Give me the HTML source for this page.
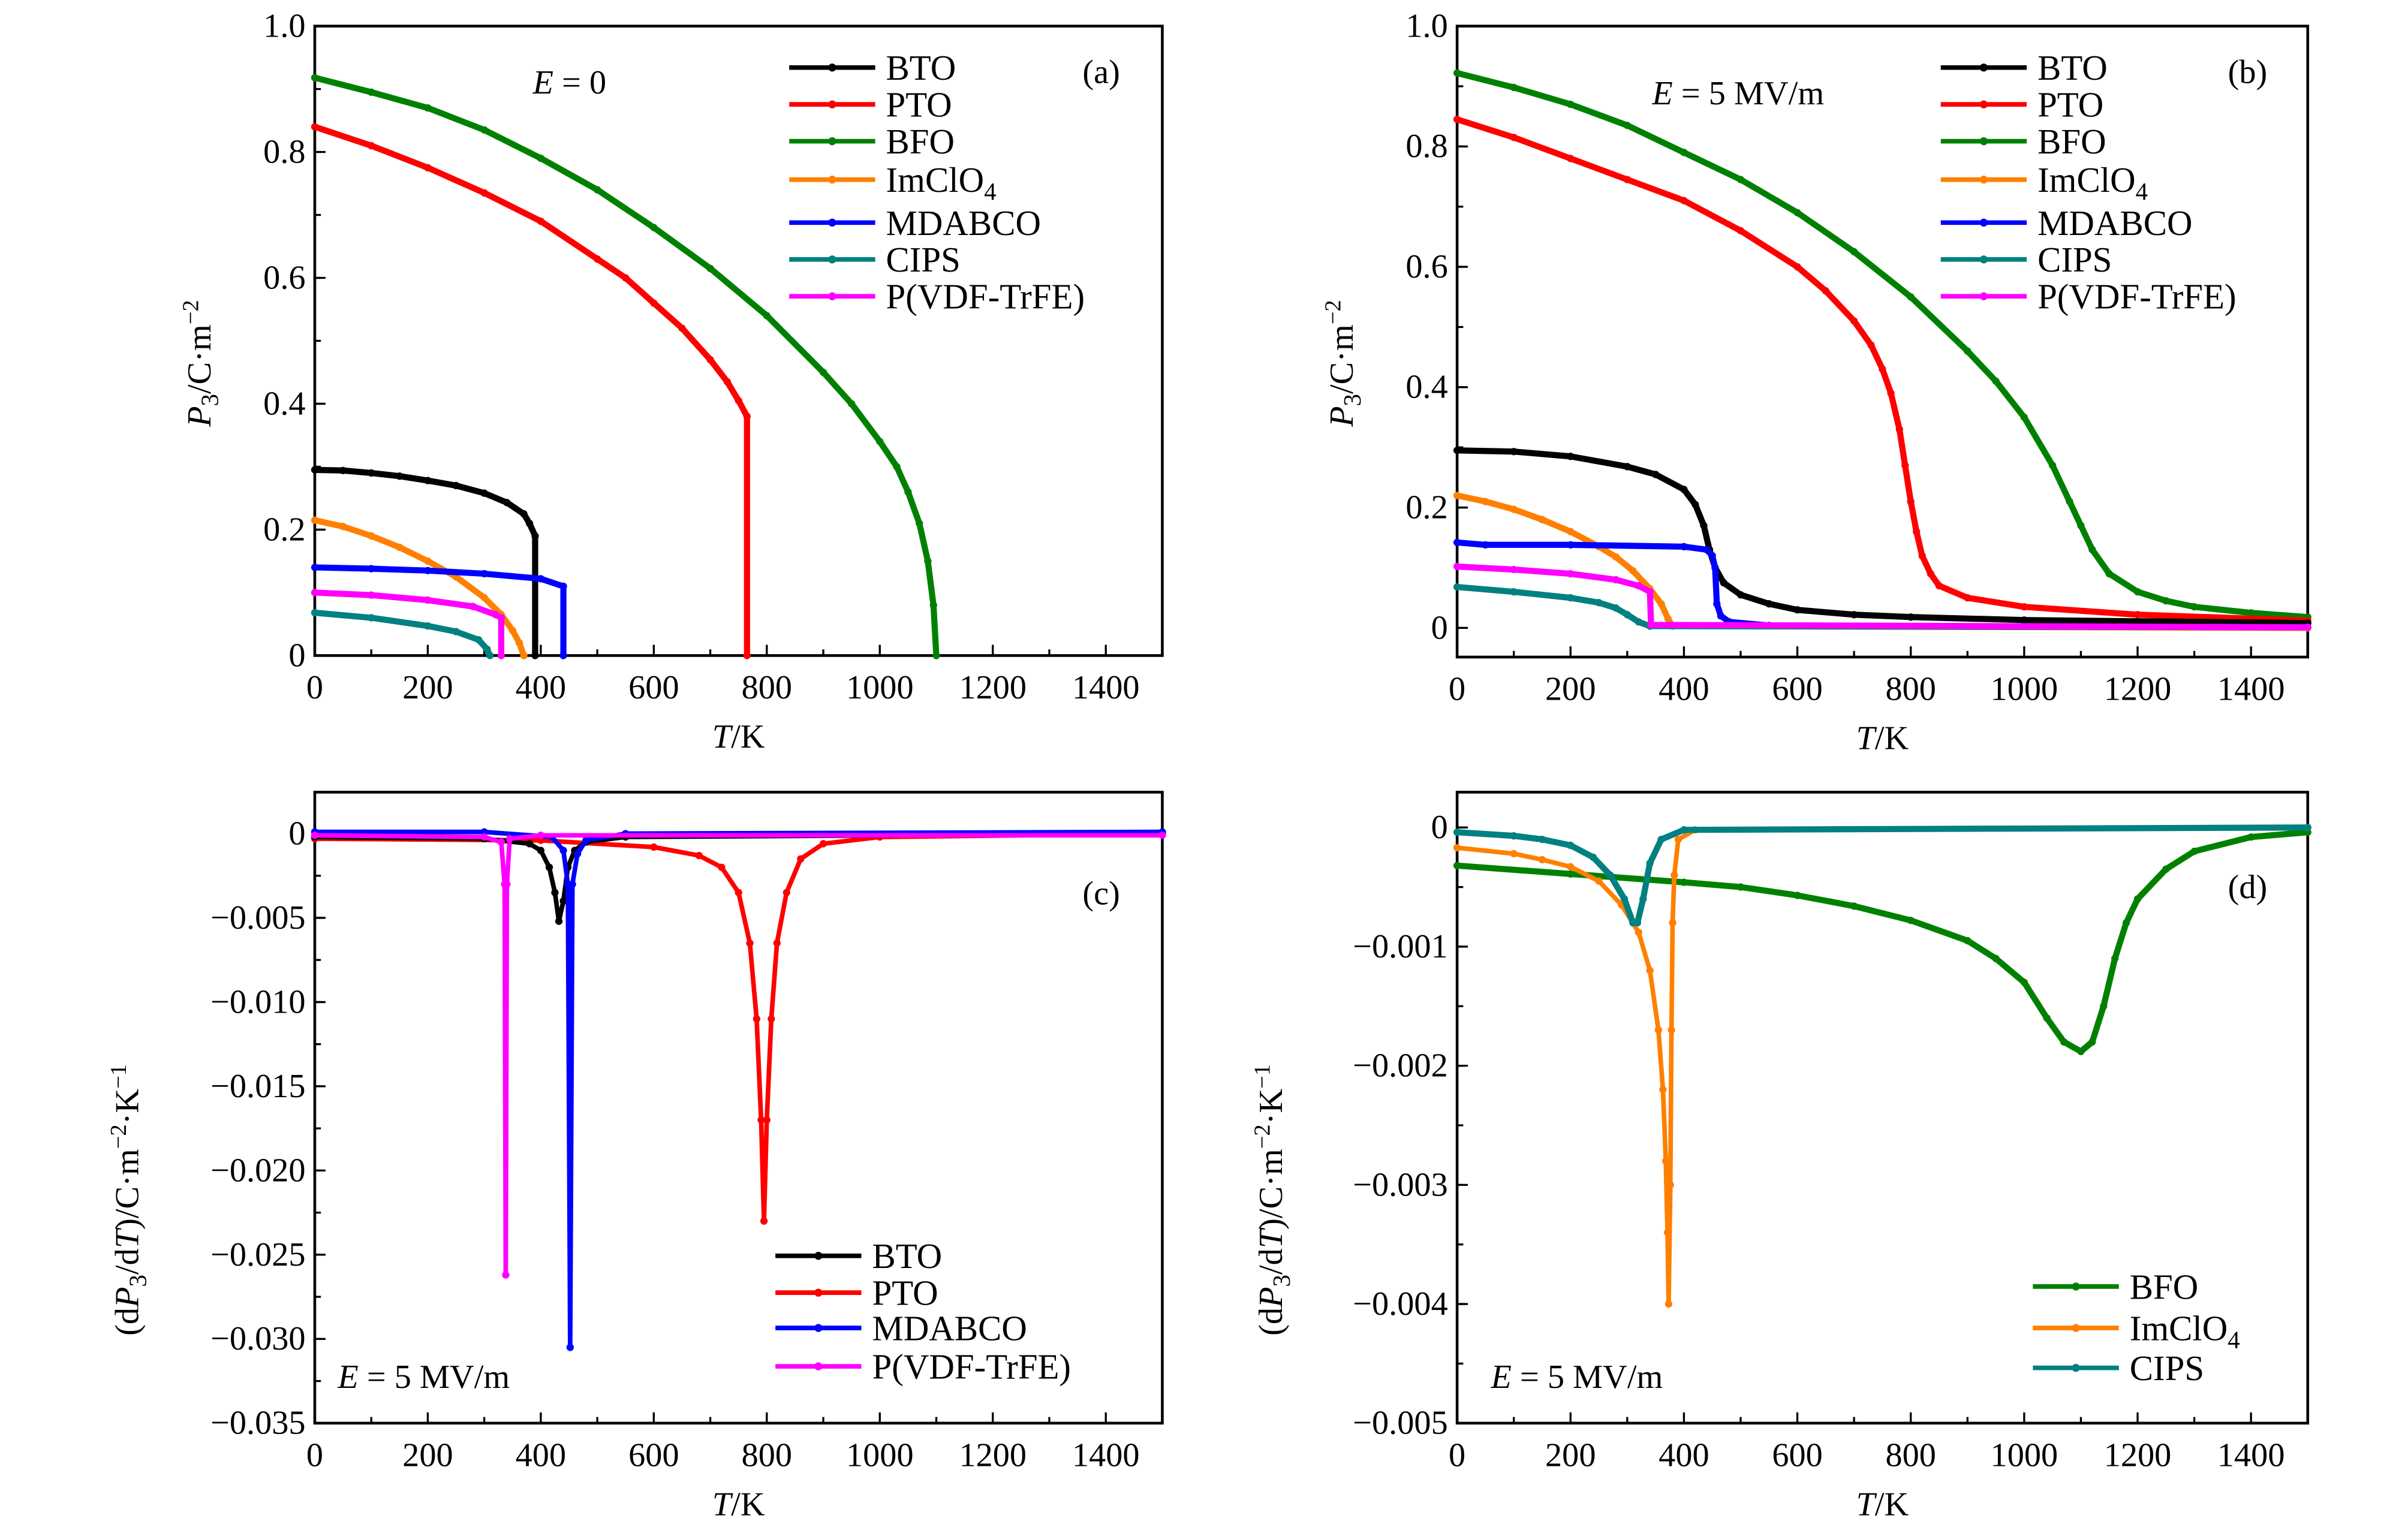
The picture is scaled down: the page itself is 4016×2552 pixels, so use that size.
<!DOCTYPE html>
<html><head><meta charset="utf-8">
<style>
html,body{margin:0;padding:0;background:#fff;}
svg{display:block;}
text{font-family:"Liberation Serif",serif;fill:#000;}
</style></head>
<body>
<svg id="fig" xmlns="http://www.w3.org/2000/svg" width="4016" height="2552" viewBox="0 0 1568.3 996.6">
<rect x="0" y="0" width="1568.3" height="996.6" fill="#fff"/>
</svg>
<script>
// ---------- data (T in K) ----------
const aBTO_T=[0,50,100,150,200,250,300,340,370,380,390,390];
const aBTO_P=[0.295,0.294,0.29,0.285,0.278,0.27,0.258,0.243,0.225,0.21,0.19,0];
const aPTO_T=[0,100,200,300,400,500,550,600,650,700,730,750,765,765];
const aPTO_P=[0.84,0.81,0.775,0.735,0.69,0.63,0.6,0.56,0.52,0.47,0.435,0.405,0.38,0];
const aBFO_T=[0,100,200,300,400,500,600,700,800,900,950,1000,1030,1050,1070,1085,1095,1100];
const aBFO_P=[0.918,0.895,0.87,0.835,0.79,0.74,0.68,0.615,0.54,0.45,0.40,0.34,0.30,0.26,0.21,0.15,0.08,0];
const aIm_T=[0,50,100,150,200,250,300,330,350,362,370];
const aIm_P=[0.215,0.205,0.19,0.172,0.15,0.125,0.092,0.065,0.04,0.02,0];
const aMD_T=[0,100,200,300,400,440,440];
const aMD_P=[0.14,0.138,0.135,0.13,0.122,0.11,0];
const aCI_T=[0,100,200,250,290,305,310];
const aCI_P=[0.068,0.06,0.047,0.038,0.025,0.01,0];
const aPV_T=[0,100,200,280,320,330,330];
const aPV_P=[0.1,0.096,0.088,0.078,0.065,0.06,0];

const bBTO_T=[0,100,200,300,350,400,420,435,445,455,470,500,550,600,700,800,1000,1500];
const bBTO_P=[0.295,0.293,0.285,0.268,0.255,0.23,0.205,0.17,0.13,0.1,0.075,0.055,0.04,0.03,0.022,0.018,0.013,0.008];
const bPTO_T=[0,100,200,300,400,500,600,650,700,730,750,765,780,790,800,810,820,835,850,900,1000,1200,1500];
const bPTO_P=[0.845,0.815,0.78,0.745,0.71,0.66,0.6,0.56,0.51,0.47,0.43,0.39,0.33,0.27,0.21,0.16,0.12,0.09,0.07,0.05,0.035,0.022,0.012];
const bBFO_T=[0,100,200,300,400,500,600,700,800,900,950,1000,1050,1080,1100,1120,1150,1200,1250,1300,1400,1500];
const bBFO_P=[0.922,0.898,0.87,0.835,0.79,0.745,0.69,0.625,0.55,0.46,0.41,0.35,0.27,0.21,0.17,0.13,0.09,0.06,0.045,0.035,0.025,0.018];
const bIm_T=[0,50,100,150,200,250,280,310,340,360,372,380,1500];
const bIm_P=[0.22,0.21,0.197,0.18,0.16,0.135,0.118,0.095,0.065,0.04,0.015,0.003,0];
const bMD_T=[0,50,200,400,440,450,455,458,465,480,550,1500];
const bMD_P=[0.142,0.138,0.138,0.135,0.13,0.12,0.1,0.04,0.02,0.01,0.004,0.001];
const bCI_T=[0,100,200,250,280,300,320,340,1500];
const bCI_P=[0.068,0.06,0.05,0.042,0.033,0.022,0.01,0.003,0.001];
const bPV_T=[0,100,200,280,320,340,342,1500];
const bPV_P=[0.102,0.097,0.09,0.08,0.07,0.06,0.005,0.001];

const cBTO_T=[0,300,380,400,415,425,432,440,448,460,480,550,1500];
const cBTO_D=[-0.0002,-0.0003,-0.0006,-0.001,-0.002,-0.0035,-0.0052,-0.004,-0.002,-0.001,-0.0005,-0.0002,0];
const cPTO_T=[0,400,600,680,720,750,770,782,790,795,800,808,818,835,860,900,1000,1500];
const cPTO_D=[-0.0003,-0.0004,-0.0008,-0.0013,-0.002,-0.0035,-0.0065,-0.011,-0.017,-0.023,-0.017,-0.011,-0.0065,-0.0035,-0.0015,-0.0006,-0.0002,0];
const cMD_T=[0,300,420,440,448,452,456,465,480,550,1500];
const cMD_D=[0.0001,0.0001,-0.0002,-0.001,-0.003,-0.0305,-0.003,-0.0012,-0.0004,0,0.0001];
const cPV_T=[0,300,330,336,338,340,345,400,1500];
const cPV_D=[-0.0001,-0.0002,-0.0005,-0.003,-0.0262,-0.003,-0.0003,-0.0001,-0.0001];

const dBFO_T=[0,200,400,500,600,700,800,900,950,1000,1040,1070,1100,1120,1140,1160,1180,1200,1250,1300,1400,1500];
const dBFO_D=[-0.00032,-0.00039,-0.00046,-0.0005,-0.00057,-0.00066,-0.00078,-0.00095,-0.0011,-0.0013,-0.0016,-0.0018,-0.00188,-0.0018,-0.0015,-0.0011,-0.0008,-0.0006,-0.00035,-0.0002,-0.00008,-0.00004];
const dIm_T=[0,100,150,200,250,290,320,340,355,363,368,371,373,376,378,380,383,390,420,1500];
const dIm_D=[-0.00017,-0.00022,-0.00027,-0.00033,-0.00045,-0.00065,-0.00088,-0.0012,-0.0017,-0.0022,-0.0028,-0.0034,-0.004,-0.003,-0.0017,-0.0008,-0.0004,-0.0001,-0.00002,0];
const dCI_T=[0,100,150,200,240,270,295,310,318,328,340,360,400,1500];
const dCI_D=[-0.00004,-0.00007,-0.0001,-0.00015,-0.00025,-0.0004,-0.0006,-0.0008,-0.0008,-0.0006,-0.0003,-0.0001,-0.00002,0];

const xTicks=[0,200,400,600,800,1000,1200,1400];
const aYTicks=[0,0.2,0.4,0.6,0.8,1.0];
const aYLabels=["0","0.2","0.4","0.6","0.8","1.0"];
const cYTicks=[0,-0.005,-0.010,-0.015,-0.020,-0.025,-0.030,-0.035];
const cYLabels=["0","\u22120.005","\u22120.010","\u22120.015","\u22120.020","\u22120.025","\u22120.030","\u22120.035"];
const dYTicks=[0,-0.001,-0.002,-0.003,-0.004,-0.005];
const dYLabels=["0","\u22120.001","\u22120.002","\u22120.003","\u22120.004","\u22120.005"];

// ---------- helpers ----------
const NS="http://www.w3.org/2000/svg";
const svg=document.getElementById('fig');
function mk(tag,attrs,parent){const e=document.createElementNS(NS,tag);for(const k in attrs)e.setAttribute(k,attrs[k]);(parent||svg).appendChild(e);return e;}
function axis(x0,x1,y0,y1,v0,v1){return{x:t=>x0+(t/1500)*(x1-x0),y:v=>y0+(v-v0)/(v1-v0)*(y1-y0)};}

function panel(name,box,sc,yT,yL,minorStep,yMin,yMax){
  const g=mk('g',{});
  
  
  const r=mk('rect',{x:box[0],y:box[1],width:box[2]-box[0],height:box[3]-box[1],fill:'none',stroke:'#000','stroke-width':1.8},g);
  
  
  for(let t=0;t<=1500;t+=100){
    const X=sc.x(t);const major=(t%200===0);
    mk('line',{x1:X,x2:X,y1:box[3],y2:box[3]-(major?7:4),stroke:'#000','stroke-width':1.3},g);
  }
  xTicks.forEach(t=>{
    const tx=mk('text',{x:sc.x(t),y:box[3]+28,'font-size':22,'text-anchor':'middle'},g);
    tx.textContent=String(t);
    
    
  });
  for(let v=yMax;v>=yMin-1e-9;v-=minorStep){
    const Y=sc.y(v);if(Y<box[1]||Y>box[3])continue;
    mk('line',{x1:box[0],x2:box[0]+4,y1:Y,y2:Y,stroke:'#000','stroke-width':1.3},g);
  }
  yT.forEach((v,i)=>{
    const Y=sc.y(v);
    mk('line',{x1:box[0],x2:box[0]+7,y1:Y,y2:Y,stroke:'#000','stroke-width':1.3},g);
    const tx=mk('text',{x:box[0]-6,y:Y+7,'font-size':22,'text-anchor':'end'},g);
    tx.textContent=yL[i];
    
    
  });
  const xl=mk('text',{x:(box[0]+box[2])/2,y:box[3]+60,'font-size':22,'text-anchor':'middle'},g);
  xl.innerHTML='<tspan font-style="italic">T</tspan>/K';
  
  
  return g;
}

function series(name,T,V,sc,color,width){
  const g=mk('g',{});
  
  
  const pts=T.map((t,i)=>sc.x(t).toFixed(2)+','+sc.y(V[i]).toFixed(2)).join(' ');
  const pl=mk('polyline',{points:pts,fill:'none',stroke:color,'stroke-width':width,'stroke-linejoin':'round','stroke-linecap':'round'},g);
  
  
  T.forEach((t,i)=>{
    const c=mk('circle',{cx:sc.x(t),cy:sc.y(V[i]),r:2.4,fill:color},g);
    
    
  });
}

function legend(name,x,ys,labels,colors){
  const g=mk('g',{});
  
  
  labels.forEach((l,i)=>{
    const y=ys[i];
    mk('line',{x1:x,x2:x+56,y1:y,y2:y,stroke:colors[i],'stroke-width':3},g);
    mk('circle',{cx:x+28,cy:y,r:2.6,fill:colors[i]},g);
    const t=mk('text',{x:x+63,y:y+8,'font-size':23},g);
    t.innerHTML=l;
    
    
  });
}
function label(txt,x,y,size,anchor,name,rot){
  const t=mk('text',{x:x,y:y,'font-size':size,'text-anchor':anchor||'start'});
  if(rot)t.setAttribute('transform','rotate(-90 '+x+' '+y+')');
  t.innerHTML=txt;
  
  
}
const BLK='#000',RED='#ff0000',GRN='#008000',ORG='#ff8000',BLU='#0000ff',TEA='#008080',MAG='#ff00ff';
const imc='ImClO<tspan font-size="16" dy="5">4</tspan>';
const W=4;

// ---------- panel a ----------
const boxA=[205,17,757,427];
const sa=axis(205,757,427,17,0,1);
panel('panel-a',boxA,sa,aYTicks,aYLabels,0.1,0,1);
series('bfo-a',aBFO_T,aBFO_P,sa,GRN,W);
series('pto-a',aPTO_T,aPTO_P,sa,RED,W);
series('bto-a',aBTO_T,aBTO_P,sa,BLK,W);
series('imclo4-a',aIm_T,aIm_P,sa,ORG,W);
series('mdabco-a',aMD_T,aMD_P,sa,BLU,W);
series('cips-a',aCI_T,aCI_P,sa,TEA,W);
series('pvdf-a',aPV_T,aPV_P,sa,MAG,W);
legend('legend-a',514,[44,68,92,117,145,169,193],['BTO','PTO','BFO',imc,'MDABCO','CIPS','P(VDF-TrFE)'],[BLK,RED,GRN,ORG,BLU,TEA,MAG]);
label('<tspan font-style="italic">E</tspan> = 0',347,61,22,'start','field-label-a');
label('(a)',705,54,22,'start','panel-label-a');
label('<tspan font-style="italic">P</tspan><tspan font-size="16" dy="5">3</tspan><tspan dy="-5">/C·m</tspan><tspan font-size="15" dy="-8">−2</tspan>',137,278,22,'start','y-axis-title-a',true);

// ---------- panel b ----------
const boxB=[949,17,1503,428];
const sb=axis(949,1503,409,17,0,1);
panel('panel-b',boxB,sb,aYTicks,aYLabels,0.1,0,1);
series('bfo-b',bBFO_T,bBFO_P,sb,GRN,W);
series('pto-b',bPTO_T,bPTO_P,sb,RED,W);
series('bto-b',bBTO_T,bBTO_P,sb,BLK,W);
series('imclo4-b',bIm_T,bIm_P,sb,ORG,W);
series('mdabco-b',bMD_T,bMD_P,sb,BLU,W);
series('cips-b',bCI_T,bCI_P,sb,TEA,W);
series('pvdf-b',bPV_T,bPV_P,sb,MAG,W);
legend('legend-b',1264,[44,68,92,117,145,169,193],['BTO','PTO','BFO',imc,'MDABCO','CIPS','P(VDF-TrFE)'],[BLK,RED,GRN,ORG,BLU,TEA,MAG]);
label('<tspan font-style="italic">E</tspan> = 5 MV/m',1076,68,22,'start','field-label-b');
label('(b)',1451,54,22,'start','panel-label-b');
label('<tspan font-style="italic">P</tspan><tspan font-size="16" dy="5">3</tspan><tspan dy="-5">/C·m</tspan><tspan font-size="15" dy="-8">−2</tspan>',881,278,22,'start','y-axis-title-b',true);

// ---------- panel c ----------
const boxC=[205,516,757,927];
const scc=axis(205,757,543,927,0,-0.035);
panel('panel-c',boxC,scc,cYTicks,cYLabels,0.0025,-0.035,0.0025);
series('pto-c',cPTO_T,cPTO_D,scc,RED,3);
series('bto-c',cBTO_T,cBTO_D,scc,BLK,3);
series('mdabco-c',cMD_T,cMD_D,scc,BLU,3);
series('pvdf-c',cPV_T,cPV_D,scc,MAG,3);
legend('legend-c',505,[818,842,865,890],['BTO','PTO','MDABCO','P(VDF-TrFE)'],[BLK,RED,BLU,MAG]);
label('<tspan font-style="italic">E</tspan> = 5 MV/m',220,904,22,'start','field-label-c');
label('(c)',705,589,22,'start','panel-label-c');
label('(d<tspan font-style="italic">P</tspan><tspan font-size="16" dy="5">3</tspan><tspan dy="-5">/d</tspan><tspan font-style="italic">T</tspan>)/C·m<tspan font-size="15" dy="-8">−2</tspan><tspan dy="8">·K</tspan><tspan font-size="15" dy="-8">−1</tspan>',90,870,22,'start','y-axis-title-c',true);

// ---------- panel d ----------
const boxD=[949,516,1503,927];
const sd=axis(949,1503,539,927,0,-0.005);
panel('panel-d',boxD,sd,dYTicks,dYLabels,0.0005,-0.005,0.0005);
series('bfo-d',dBFO_T,dBFO_D,sd,GRN,W);
series('imclo4-d',dIm_T,dIm_D,sd,ORG,3);
series('cips-d',dCI_T,dCI_D,sd,TEA,W);
legend('legend-d',1324,[838,865,891],['BFO',imc,'CIPS'],[GRN,ORG,TEA]);
label('<tspan font-style="italic">E</tspan> = 5 MV/m',971,904,22,'start','field-label-d');
label('(d)',1451,585,22,'start','panel-label-d');
label('(d<tspan font-style="italic">P</tspan><tspan font-size="16" dy="5">3</tspan><tspan dy="-5">/d</tspan><tspan font-style="italic">T</tspan>)/C·m<tspan font-size="15" dy="-8">−2</tspan><tspan dy="8">·K</tspan><tspan font-size="15" dy="-8">−1</tspan>',835,870,22,'start','y-axis-title-d',true);
</script>
</body></html>
